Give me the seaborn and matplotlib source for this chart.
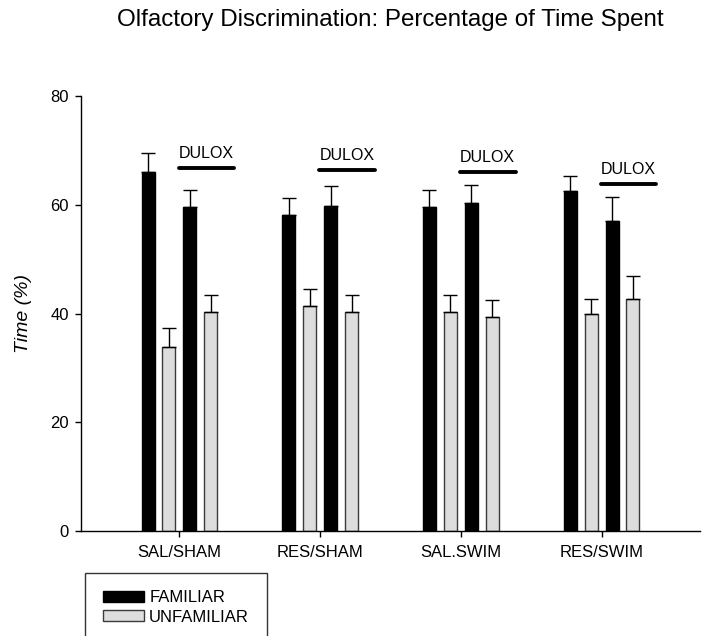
import pandas as pd
import matplotlib
matplotlib.use("Agg")
import matplotlib.pyplot as plt
import seaborn as sns
from matplotlib.patches import Patch

# values
groups = ["SAL/SHAM", "RES/SHAM", "SAL.SWIM", "RES/SWIM"]
conditions = ["FAMILIAR", "UNFAMILIAR", "FAMILIAR DULOX", "UNFAMILIAR DULOX"]
familiar = [66.0, 58.1, 59.6, 62.5]
unfamiliar = [33.8, 41.4, 40.2, 40.0]
familiar_dulox = [59.5, 59.8, 60.3, 57.1]
unfamiliar_dulox = [40.3, 40.3, 39.4, 42.7]
err_familiar = [3.6, 3.1, 3.1, 2.8]
err_unfamiliar = [3.5, 3.1, 3.2, 2.6]
err_familiar_dulox = [3.2, 3.7, 3.3, 4.3]
err_unfamiliar_dulox = [3.1, 3.1, 3.1, 4.2]
dulox_y = [66.7, 66.4, 66.0, 63.8]

values = [familiar, unfamiliar, familiar_dulox, unfamiliar_dulox]
errors = [err_familiar, err_unfamiliar, err_familiar_dulox, err_unfamiliar_dulox]

rows = []
for cond, vals in zip(conditions, values):
    for g, v in zip(groups, vals):
        rows.append({"group": g, "condition": cond, "value": v})
df = pd.DataFrame(rows)

sns.set_style("ticks")
plt.rcParams['font.family'] = ['Liberation Sans', 'DejaVu Sans']
plt.rcParams['text.color'] = 'black'
plt.rcParams['axes.labelcolor'] = 'black'
plt.rcParams['xtick.color'] = 'black'
plt.rcParams['ytick.color'] = 'black'
plt.rcParams['axes.edgecolor'] = 'black'

BLACK = "#000000"
GRAY = "#dddddd"
palette = {"FAMILIAR": BLACK, "UNFAMILIAR": GRAY,
           "FAMILIAR DULOX": BLACK, "UNFAMILIAR DULOX": GRAY}

fig = plt.figure(figsize=(7.03, 6.36), dpi=100)
ax = fig.add_axes([81 / 703, 1 - 531 / 636, 619 / 703, 435 / 636])

sns.barplot(data=df, x="group", y="value", hue="condition",
            hue_order=conditions, order=groups, palette=palette,
            width=0.596, gap=0.38, errorbar=None, saturation=1,
            legend=False, ax=ax)

# edges + upward error bars
for cont, errs, col in zip(ax.containers, errors, [BLACK, GRAY, BLACK, GRAY]):
    xs, hs = [], []
    for p in cont.patches:
        p.set_edgecolor("black" if col == BLACK else "#3a3a3a")
        p.set_linewidth(1.0)
        xs.append(p.get_x() + p.get_width() / 2)
        hs.append(p.get_height())
    ax.errorbar(xs, hs, yerr=[[0] * len(errs), errs], fmt="none",
                ecolor="black", elinewidth=1.0, capsize=4.7, capthick=1.0,
                zorder=1)

# DULOX markers
for i, y in enumerate(dulox_y):
    ax.plot([i - 0.005, i + 0.39], [y, y], color="black", lw=2.8,
            solid_capstyle="round")
    ax.text(i + 0.19, y + 1.3, "DULOX", ha="center", va="bottom", fontsize=11.5)

ax.set_xlim(-0.70, 3.70)
ax.set_ylim(0, 80)
ax.set_yticks([0, 20, 40, 60, 80])
ax.set_xlabel("")
ax.set_ylabel("Time (%)", fontsize=14, style="italic")
ax.yaxis.set_label_coords(-0.079, 0.5)
ax.tick_params(axis="both", direction="out", length=4.3, width=1, pad=4.5,
               labelsize=12)
ax.tick_params(axis="x", pad=6)
sns.despine(ax=ax)
for s in ["left", "bottom"]:
    ax.spines[s].set_linewidth(1.0)

fig.text(390 / 703, 1 - 20 / 636,
         "Olfactory Discrimination: Percentage of Time Spent",
         ha="center", va="center", fontsize=17.4)

handles = [Patch(facecolor=BLACK, edgecolor="black", label="FAMILIAR"),
           Patch(facecolor=GRAY, edgecolor="#3a3a3a", label="UNFAMILIAR")]
leg = fig.legend(handles=handles, loc="upper left",
                 bbox_to_anchor=(85 / 703, 1 - 573 / 636), borderaxespad=0,
                 fontsize=12, frameon=True, fancybox=False, edgecolor="black",
                 handlelength=2.5, handleheight=0.65, handletextpad=0.3,
                 labelspacing=0.25, borderpad=1.05)
leg.get_frame().set_linewidth(1.0)

fig.savefig("out.png", dpi=100)
